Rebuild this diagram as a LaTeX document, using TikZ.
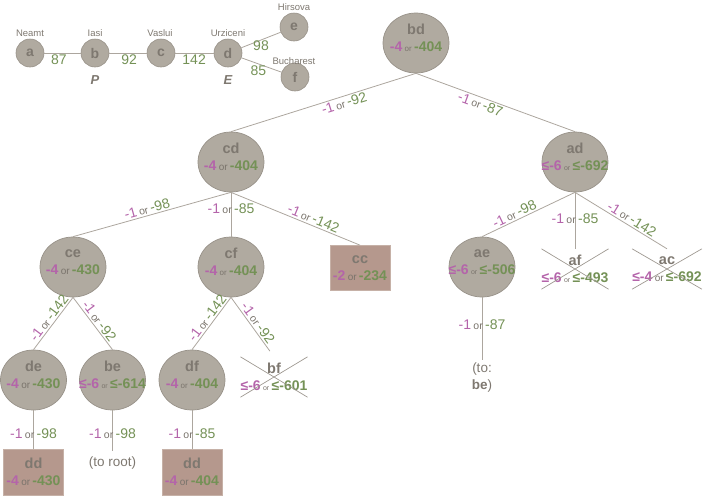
\documentclass[tikz,border=0pt]{standalone}
\usepackage{fontspec}
\setmainfont{Liberation Sans}
\usetikzlibrary{shapes.geometric}

\definecolor{nodefill}{RGB}{176,170,160}
\definecolor{nodeedge}{RGB}{152,146,137}
\definecolor{namecol}{RGB}{126,120,112}
\definecolor{orcol}{RGB}{122,116,108}
\definecolor{mag}{RGB}{180,100,170}
\definecolor{grn}{RGB}{116,145,86}
\definecolor{boxfill}{RGB}{181,152,141}
\definecolor{boxedge}{RGB}{198,177,167}
\definecolor{edgecol}{RGB}{172,166,158}
\definecolor{crosscol}{RGB}{158,152,145}

% node name, value pair and edge-cost pair
\newcommand\nm[1]{{\fontsize{14.5}{17}\selectfont\bfseries\color{namecol}#1}}
\newcommand\orw[1]{{\fontsize{#1}{#1}\selectfont\mdseries\color{orcol}or}}
\newcommand\vl[3][10]{{\bfseries\color{mag}#2}\,\orw{#1}\,{\bfseries\color{grn}#3}}
\newcommand\el[2]{{\color{mag}#1}\,\orw{10.5}\,{\color{grn}#2}}

\begin{document}
\begin{tikzpicture}[x=1pt,y=-1pt,
  state/.style={ellipse, draw=nodeedge, fill=nodefill, line width=0.7pt,
    minimum width=66pt, minimum height=60pt, inner sep=0pt},
  sttext/.style={align=center, font=\fontsize{14}{17}\selectfont, inner sep=0pt},
  goal/.style={rectangle, draw=boxedge, fill=boxfill, line width=0.7pt,
    minimum width=60pt, minimum height=45pt, align=center,
    font=\fontsize{14}{17}\selectfont, inner sep=0pt},
  pruned/.style={rectangle, minimum width=66pt, minimum height=40pt,
    align=center, font=\fontsize{14}{17}\selectfont, inner sep=0pt},
  crossln/.style={draw=crosscol, line width=0.7pt},
  tedge/.style={draw=edgecol, line width=0.8pt},
  elbl/.style={font=\fontsize{14}{14}\selectfont, inner sep=1.5pt},
  note/.style={align=center, font=\fontsize{13.5}{17}\selectfont, text=namecol},
  city/.style={circle, draw=nodeedge, fill=nodefill, line width=0.6pt,
    minimum size=28pt, inner sep=0pt,
    font=\fontsize{14}{14}\selectfont\bfseries, text=namecol},
  cityname/.style={font=\fontsize{9.5}{10}\selectfont, text=namecol, inner sep=0pt},
  role/.style={font=\fontsize{13}{13}\selectfont\bfseries\itshape, text=namecol},
  cost/.style={font=\fontsize{14}{14}\selectfont, text=grn, inner sep=1pt},
]
\useasboundingbox (0,0) rectangle (707,496);

% ---------- road map ----------
\node[city] (a) at (30,53) {a};
\node[city] (b) at (95,53) {b};
\node[city] (c) at (161,53) {c};
\node[city] (d) at (228,53) {d};
\node[city] (e) at (294,27) {e};
\node[city] (f) at (295,77) {f};
\node[cityname] (a-n) at (30,33) {Neamt};
\node[cityname] (b-n) at (95,33) {Iasi};
\node[cityname] (c-n) at (160,33) {Vaslui};
\node[cityname] (d-n) at (228,33) {Urziceni};
\node[cityname] (e-n) at (294,7) {Hirsova};
\node[cityname] (f-n) at (294,61) {Bucharest};
\node[role] (b-r) at (95,80) {P};
\node[role] (d-r) at (228,80) {E};

\draw[tedge] (a) -- node[cost, below, pos=0.4] {87} (b);
\draw[tedge] (b) -- node[cost, below, pos=0.53] {92} (c);
\draw[tedge] (c) -- node[cost, below, pos=0.49] {142} (d);
\draw[tedge] (d) -- node[cost, below, pos=0.5, inner sep=0pt] {98} (e);
\draw[tedge] (d) -- node[cost, below, pos=0.42] {85} (f);

% ---------- search tree: nodes ----------
\node[state] (bd) at (416,43) {};
\node[sttext] (bd-t) at ([yshift=5.5pt]bd.center) {\nm{bd}\\\vl[8]{-4}{-404}};
\node[state] (cd) at (231,162) {};
\node[sttext] (cd-t) at ([yshift=5.5pt]cd.center) {\nm{cd}\\\vl{-4}{-404}};
\node[state] (ad) at (575,162) {};
\node[sttext] (ad-t) at ([yshift=5.5pt]ad.center) {\nm{ad}\\\vl[7]{≤-6}{≤-692}};
\node[state] (ce) at (73,267) {};
\node[sttext] (ce-t) at ([yshift=5pt]ce.center) {\nm{ce}\\\vl{-4}{-430}};
\node[state] (cf) at (231,267) {};
\node[sttext] (cf-t) at ([yshift=5pt]cf.center) {\nm{cf}\\\vl[8]{-4}{-404}};
\node[goal] (cc) at (360,268) {\nm{cc}\\\vl{-2}{-234}};
\node[state] (ae) at (482,267) {};
\node[sttext] (ae-t) at ([yshift=5pt]ae.center) {\nm{ae}\\\vl[7]{≤-6}{≤-506}};
\node[pruned] (af) at (575,269) {\nm{af}\\\vl[7]{≤-6}{≤-493}};
\node[pruned] (ac) at (667,269) {\nm{ac}\\\vl{≤-4}{≤-692}};
\node[state] (de) at (33.5,380) {};
\node[sttext] (de-t) at ([yshift=5pt]de.center) {\nm{de}\\\vl{-4}{-430}};
\node[state] (be) at (112.5,380) {};
\node[sttext] (be-t) at ([yshift=5pt]be.center) {\nm{be}\\\vl[7]{≤-6}{≤-614}};
\node[state] (df) at (192,380) {};
\node[sttext] (df-t) at ([yshift=5pt]df.center) {\nm{df}\\\vl[8]{-4}{-404}};
\node[pruned] (bf) at (274,377) {\nm{bf}\\\vl[7]{≤-6}{≤-601}};
\node[goal, minimum height=46pt] (dd1) at (33.5,472) {\nm{dd}\\\vl{-4}{-430}};
\node[goal, minimum height=46pt] (dd2) at (192,472) {\nm{dd}\\\vl{-4}{-404}};
\node[note, inner ysep=6pt] (be-to) at (112.5,463) {(to root)};
\node[note, inner sep=2pt] (ae-to) at (482,377) {(to:\\\textbf{be})};

% crossed-out (pruned) entries
\foreach \p in {af,ac,bf}
  \draw[crossln] (\p.north west) -- (\p.south east) (\p.south west) -- (\p.north east);

% ---------- search tree: edges ----------
\draw[tedge] (bd.south) -- node[elbl, sloped, below, pos=0.4] {\el{-1}{-92}} (cd.north);
\draw[tedge] (bd.south) -- node[elbl, sloped, below, pos=0.42] {\el{-1}{-87}} (ad.north);

\draw[tedge] (cd.south) -- node[elbl, sloped, above, pos=0.52] {\el{-1}{-98}} (ce.north);
\draw[tedge] (cd.south) -- node[elbl, pos=0.36] {\el{-1}{-85}} (cf.north);
\draw[tedge] (cd.south) -- node[elbl, sloped, above, pos=0.62] {\el{-1}{-142}} (cc.north);

\draw[tedge] (ad.south) -- node[elbl, sloped, above, pos=0.62] {\el{-1}{-98}} (ae.north);
\draw[tedge] (ad.south) -- node[elbl, pos=0.47] {\el{-1}{-85}} (af.north);
\draw[tedge] (ad.south) -- node[elbl, sloped, above, pos=0.58] {\el{-1}{-142}} (ac.north);

\draw[tedge] (ce.south) -- node[elbl, sloped, above, pos=0.47] {\el{-1}{-142}} (de.north);
\draw[tedge] (ce.south) -- node[elbl, sloped, above, pos=0.53] {\el{-1}{-92}} (be.north);
\draw[tedge] (cf.south) -- node[elbl, sloped, above, pos=0.47] {\el{-1}{-142}} (df.north);
\draw[tedge, shorten >=7pt] (cf.south) -- node[elbl, sloped, above, pos=0.5] {\el{-1}{-92}} (bf.north);

\draw[tedge] (de.south) -- node[elbl, pos=0.6] {\el{-1}{-98}} (dd1.north);
\draw[tedge] (be.south) -- node[elbl, pos=0.58] {\el{-1}{-98}} (be-to.north);
\draw[tedge] (df.south) -- node[elbl, pos=0.6] {\el{-1}{-85}} (dd2.north);
\draw[tedge] (ae.south) -- node[elbl, pos=0.43] {\el{-1}{-87}} (ae-to.north);
\end{tikzpicture}
\end{document}
